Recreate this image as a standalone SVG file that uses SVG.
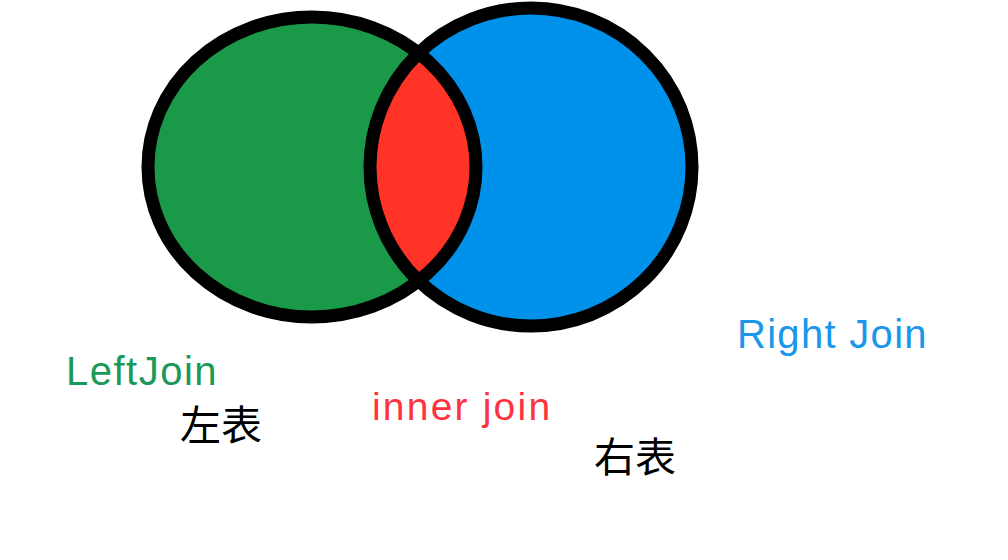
<svg xmlns="http://www.w3.org/2000/svg" width="1008" height="560" viewBox="0 0 1008 560">
<style>
.lbl{font-family:"Liberation Sans","Noto Sans CJK SC",sans-serif;}
.cjk{font-family:"Noto Sans CJK SC",sans-serif;}
.ring{fill:none;stroke:#000;stroke-width:13;}
</style>
<defs>
<clipPath id="clipL"><ellipse cx="312" cy="167" rx="164" ry="150"/></clipPath>
</defs>
<rect width="1008" height="560" fill="#fff"/>
<g id="left-table">
<ellipse cx="312" cy="167" rx="164" ry="150" fill="#1a9a48"/>
</g>
<g id="right-table">
<ellipse cx="531" cy="167" rx="161" ry="159" fill="#0092eb"/>
</g>
<g id="inner">
<ellipse cx="531" cy="167" rx="161" ry="159" fill="#ff3326" clip-path="url(#clipL)"/>
</g>
<g id="outlines">
<ellipse class="ring" cx="312" cy="167" rx="164" ry="150"/>
<ellipse class="ring" cx="531" cy="167" rx="161" ry="159"/>
</g>
<g id="labels">
<text class="lbl" x="66" y="385" font-size="40" letter-spacing="1.5" fill="#1a9a5a">LeftJoin</text>
<text class="cjk" x="180" y="440" font-size="41" fill="#000">左表</text>
<text class="lbl" x="372" y="420" font-size="39" letter-spacing="2.2" fill="#ff3340">inner join</text>
<text class="cjk" x="594" y="472" font-size="41" fill="#000">右表</text>
<text class="lbl" x="737" y="348" font-size="40" letter-spacing="1.3" fill="#1a96ea">Right Join</text>
</g>
</svg>
